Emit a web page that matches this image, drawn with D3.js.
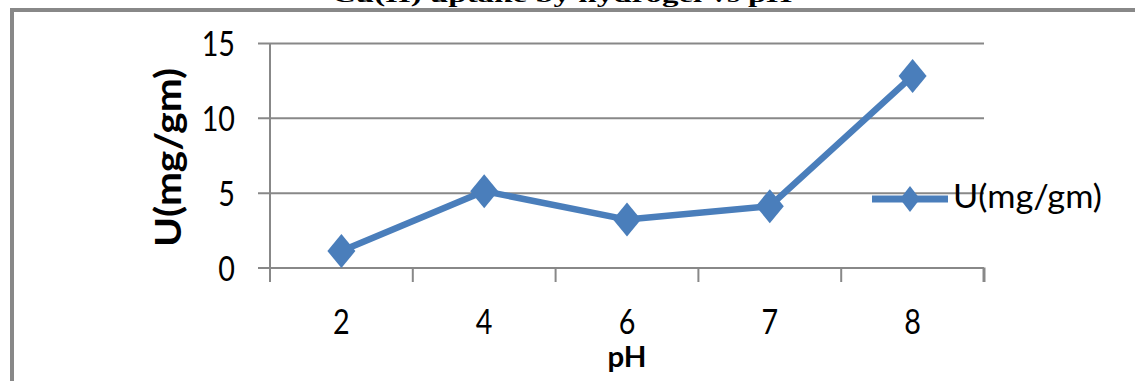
<!DOCTYPE html>
<html>
<head>
<meta charset="utf-8">
<script src="https://cdn.jsdelivr.net/npm/d3@7"></script>
<style>
  html, body { margin: 0; padding: 0; background: #fff; }
  svg { display: block; }
</style>
</head>
<body>
<svg id="chart" width="1135" height="381"></svg>
<script>
// ---- data ----
const categories = ["2", "4", "6", "7", "8"];
const uptake = [1.1, 5.1, 3.2, 4.1, 12.8];
const yTicks = [0, 5, 10, 15];
const seriesName = "U(mg/gm)";
const titleText = "Cu(II) uptake by hydrogel vs pH";
const xTitle = "pH";
const yTitle = "U(mg/gm)";

// ---- layout ----
const W = 1135, H = 381;
const plot = { left: 270, right: 984, top: 43, bottom: 267.5 };
const blue = "#4a7ebb";
const grey = "#888888";
const font = "Lato, 'Open Sans', 'Liberation Sans', sans-serif";

const svg = d3.select("#chart");

const x = d3.scaleBand().domain(categories).range([plot.left, plot.right]);
const y = d3.scaleLinear().domain([0, 15]).range([plot.bottom, plot.top]);

function condense(sel, k) {
  sel.each(function () {
    const L = this.getComputedTextLength();
    d3.select(this).attr("textLength", L * k).attr("lengthAdjust", "spacingAndGlyphs");
  });
}

// title (cropped at top, as in the source image)
svg.append("text")
  .attr("x", 562).attr("y", 2)
  .attr("text-anchor", "middle")
  .attr("font-family", "'Liberation Serif', 'Times New Roman', serif")
  .attr("font-weight", "bold")
  .attr("font-size", 22)
  .attr("textLength", 460)
  .attr("lengthAdjust", "spacingAndGlyphs")
  .attr("fill", "#000")
  .text(titleText);

// outer border (top and left)
svg.append("line").attr("x1", 10).attr("x2", W).attr("y1", 10).attr("y2", 10)
  .attr("stroke", grey).attr("stroke-width", 4);
svg.append("line").attr("x1", 12).attr("x2", 12).attr("y1", 8).attr("y2", H)
  .attr("stroke", grey).attr("stroke-width", 4);

// y axis with gridlines
const yAxis = svg.append("g")
  .attr("transform", `translate(${plot.right},0)`)
  .call(d3.axisLeft(y).tickValues(yTicks).tickSize(plot.right - 258).tickPadding(23).tickFormat(d3.format("d")));
yAxis.select(".domain").remove();
yAxis.selectAll(".tick line").attr("stroke", grey).attr("stroke-width", 2);
yAxis.selectAll(".tick text")
  .attr("font-family", font).attr("font-size", 35).attr("fill", "#000")
  .attr("dy", "0.36em")
  .call(condense, 0.82);

// y axis vertical line
svg.append("line")
  .attr("x1", plot.left).attr("x2", plot.left)
  .attr("y1", y(15)).attr("y2", y(0))
  .attr("stroke", grey).attr("stroke-width", 2);

// x axis category boundary ticks
const bounds = categories.map(c => x(c)).concat([x.range()[1]]);
svg.append("g").selectAll("line").data(bounds).join("line")
  .attr("x1", d => d).attr("x2", d => d)
  .attr("y1", y(0)).attr("y2", y(0) + 14.5)
  .attr("stroke", grey).attr("stroke-width", (d, i) => i === bounds.length - 1 ? 3 : 2);

// x tick labels
const xAxis = svg.append("g")
  .attr("transform", `translate(0,${y(0)})`)
  .call(d3.axisBottom(x).tickSize(0).tickPadding(0));
xAxis.select(".domain").remove();
xAxis.selectAll(".tick text")
  .attr("font-family", font).attr("font-size", 35).attr("fill", "#000")
  .attr("y", 66).attr("dy", 0)
  .call(condense, 0.82);

// axis titles
svg.append("text")
  .attr("x", (plot.left + plot.right) / 2).attr("y", 367)
  .attr("text-anchor", "middle")
  .attr("font-family", font).attr("font-weight", "bold").attr("font-size", 28)
  .attr("textLength", 39).attr("lengthAdjust", "spacingAndGlyphs")
  .attr("fill", "#000")
  .text(xTitle);

svg.append("text")
  .attr("transform", "translate(181,157.5) rotate(-90)")
  .attr("text-anchor", "middle")
  .attr("font-family", font).attr("font-weight", "bold").attr("font-size", 37)
  .attr("textLength", 179).attr("lengthAdjust", "spacingAndGlyphs")
  .attr("fill", "#000")
  .text(yTitle);

// series line
const cx = (d, i) => x(categories[i]) + x.bandwidth() / 2;
svg.append("path")
  .datum(uptake)
  .attr("fill", "none")
  .attr("stroke", blue)
  .attr("stroke-width", 6.5)
  .attr("stroke-linejoin", "round")
  .attr("d", d3.line().x(cx).y(d => y(d)));

// diamond markers
const diamond = (hw, hh) => `M0,${-hh}L${hw},0L0,${hh}L${-hw},0Z`;
svg.append("g").selectAll("path").data(uptake).join("path")
  .attr("transform", (d, i) => `translate(${cx(d, i)},${y(d)})`)
  .attr("d", diamond(14, 17))
  .attr("fill", blue);

// legend
const legY = 199;
svg.append("line").attr("x1", 872).attr("x2", 948).attr("y1", legY).attr("y2", legY)
  .attr("stroke", blue).attr("stroke-width", 7);
svg.append("path").attr("transform", `translate(910,${legY})`)
  .attr("d", diamond(10, 13)).attr("fill", blue);
svg.append("text")
  .attr("x", 953).attr("y", 208)
  .attr("font-family", font).attr("font-size", 32)
  .attr("textLength", 149).attr("lengthAdjust", "spacingAndGlyphs")
  .attr("fill", "#000")
  .text(seriesName);
</script>
</body>
</html>
